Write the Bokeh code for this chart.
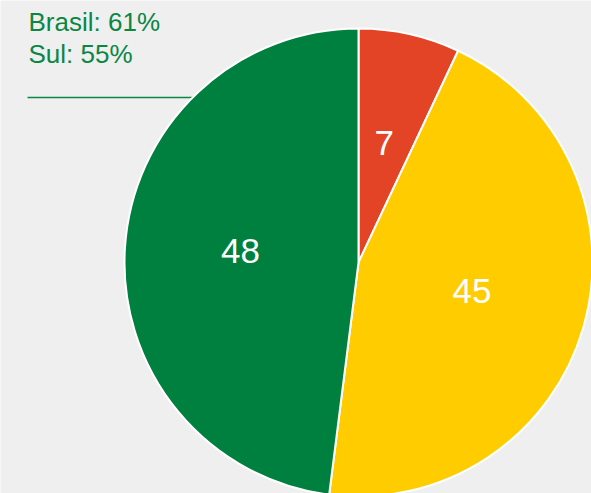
import math
from bokeh.plotting import figure
from bokeh.models import Range1d, ColumnDataSource
from bokeh.core.properties import value
from bokeh.embed import file_html
from bokeh.resources import INLINE

# Data
categories = ["Ruim", "Regular", "Bom"]
values = [7, 45, 48]
colors = ["#E34425", "#FFCC00", "#00803F"]
notes = ["Brasil: 61%", "Sul: 55%"]

W, H = 591, 493
p = figure(width=W, height=H, output_backend="svg", toolbar_location=None,
           x_range=Range1d(0, W), y_range=Range1d(0, H), min_border=0,
           background_fill_color="#efefef", border_fill_color="#efefef")
p.axis.visible = False
p.grid.visible = False
p.outline_line_color = None

cx, cy, R = 358, 231, 234

total = sum(values)
starts, ends, lx, ly = [], [], [], []
cum = 0
for v in values:
    a0 = math.pi / 2 - 2 * math.pi * cum / total
    a1 = math.pi / 2 - 2 * math.pi * (cum + v) / total
    starts.append(a0)
    ends.append(a1)
    mid = (a0 + a1) / 2
    lx.append(cx + 0.505 * R * math.cos(mid))
    ly.append(cy + 0.505 * R * math.sin(mid) + 4)
    cum += v

# green rule under the notes (partly behind the pie)
p.segment(x0=[27], y0=[396], x1=[250], y1=[396], line_color="#0a8744", line_width=1.3)

src = ColumnDataSource(dict(cat=categories, val=values, color=colors,
                            start=starts, end=ends, lx=lx, ly=ly,
                            label=[str(v) for v in values]))
p.wedge(x=cx, y=cy, radius=R, start_angle="start", end_angle="end",
        direction="clock", fill_color="color", line_color="white",
        line_width=2, source=src)
p.text(x="lx", y="ly", text="label", source=src, text_color="white",
       text_font=value("Liberation Sans"), text_font_size="35px",
       text_align="center", text_baseline="middle")

p.text(x=[28, 28], y=[471.5, 439.5], text=notes, text_color="#0a8744",
       text_font=value("Liberation Sans"), text_font_size="26px",
       text_align="left", text_baseline="middle")

open("out.html", "w").write(file_html(p, INLINE))
